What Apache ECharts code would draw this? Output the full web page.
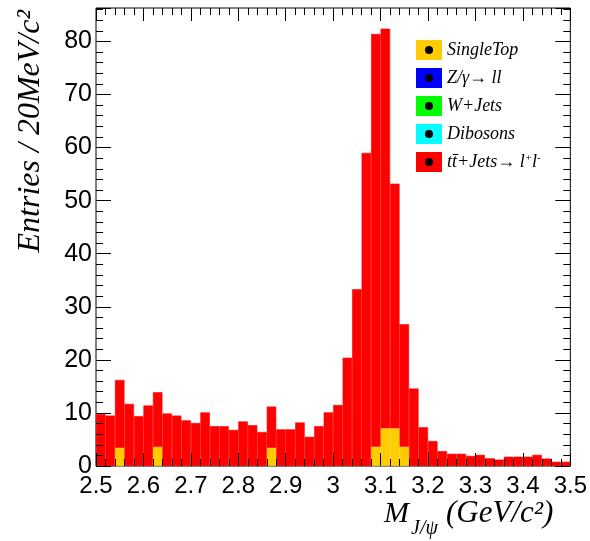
<!DOCTYPE html>
<html>
<head>
<meta charset="utf-8">
<script src="https://cdn.jsdelivr.net/npm/echarts@6/dist/echarts.min.js"></script>
<style>
  html, body { margin: 0; padding: 0; background: #fff; }
  #main { width: 590px; height: 541px; }
</style>
</head>
<body>
<div id="main"></div>
<script>
// J/psi mass histogram, 20 MeV bins from 2.5 to 3.5
var binEdges = [];
for (var i = 0; i < 50; i++) binEdges.push((2.5 + i * 0.02).toFixed(2));

var seriesNames = ['SingleTop', 'Z/γ→ ll', 'W+Jets', 'Dibosons', 'tt̄+Jets→ l+l-'];
var seriesColors = ['#ffcc00', '#0000ff', '#00ff00', '#00ffff', '#ff0000'];

var singleTop = [0, 0, 3.4, 0, 0, 0, 3.6, 0, 0, 0,
                 0, 0, 0, 0, 0, 0, 0, 0, 3.4, 0,
                 0, 0, 0, 0, 0, 0, 0, 0, 0, 3.6,
                 7.1, 7.1, 3.6, 0, 0, 0, 0, 0, 0, 0,
                 0, 0, 0, 0, 0, 0, 0, 0, 0, 0];
var zgamma = [];
var wjets = [];
var dibosons = [];
for (var k = 0; k < 50; k++) { zgamma.push(0); wjets.push(0); dibosons.push(0); }

// total stacked height of each bin
var total = [9.8, 9.5, 16.2, 11.7, 9.4, 11.4, 13.9, 9.9, 9.5, 8.6,
             8.1, 10.1, 7.5, 7.5, 6.8, 8.4, 7.7, 6.4, 11.2, 6.9,
             6.9, 8.2, 5.5, 7.5, 10.1, 11.5, 20.4, 33.3, 59.0, 81.4,
             82.4, 53.2, 26.7, 14.6, 7.3, 4.7, 2.8, 2.3, 2.3, 1.9,
             2.1, 1.45, 1.2, 1.75, 1.75, 1.75, 2.1, 1.4, 0.8, 0.8];
var ttbar = total.map(function (v, i) { return +(v - singleTop[i]).toFixed(2); });

var seriesData = [singleTop, zgamma, wjets, dibosons, ttbar];

function legendIcon(color) {
  var svg = '<svg xmlns="http://www.w3.org/2000/svg" width="26" height="20">' +
    '<rect width="26" height="20" fill="' + color + '"/>' +
    '<circle cx="13" cy="10" r="4" fill="#000"/></svg>';
  return 'image://data:image/svg+xml;charset=utf-8,' + encodeURIComponent(svg);
}

var myChart = echarts.init(document.getElementById('main'));

var tickStyle = { color: '#000' };

var option = {
  backgroundColor: '#fff',
  animation: false,
  grid: {
    left: 96, right: 14, top: 8, bottom: 75,
    show: true, borderColor: '#000', borderWidth: 1, backgroundColor: 'transparent'
  },
  legend: {
    left: 411, top: 35,
    orient: 'vertical',
    itemWidth: 26, itemHeight: 20, itemGap: 8,
    data: seriesNames.map(function (n, i) { return { name: n, icon: legendIcon(seriesColors[i]) }; }),
    formatter: function (name) {
      if (name === seriesNames[4]) return 'tt̄+Jets→ l{sup|+}l{sup|-}';
      return name;
    },
    textStyle: {
      fontFamily: 'Liberation Serif', fontStyle: 'italic', fontSize: 18, color: '#000',
      rich: {
        sup: { fontFamily: 'Liberation Serif', fontStyle: 'italic', fontSize: 11, verticalAlign: 'top', padding: [0, 0, 8, 0] }
      }
    },
    selectedMode: false
  },
  xAxis: [
    {
      type: 'category', data: binEdges, show: false, boundaryGap: true
    },
    {
      type: 'value', position: 'bottom', min: 2.5, max: 3.5, interval: 0.1, z: 5,
      axisLine: { show: false },
      axisTick: { inside: true, length: 13, lineStyle: tickStyle },
      minorTick: { show: true, splitNumber: 5, length: 7, lineStyle: tickStyle },
      splitLine: { show: false },
      axisLabel: {
        fontFamily: 'Liberation Sans', fontSize: 24, color: '#000', margin: 8,
        formatter: function (v) { return +v.toFixed(1) + ''; }
      }
    },
    {
      type: 'value', position: 'top', min: 2.5, max: 3.5, interval: 0.1, z: 5,
      axisLine: { show: false },
      axisTick: { inside: true, length: 13, lineStyle: tickStyle },
      minorTick: { show: true, splitNumber: 5, length: 7, lineStyle: tickStyle },
      splitLine: { show: false },
      axisLabel: { show: false }
    }
  ],
  yAxis: [
    {
      type: 'value', position: 'left', min: 0, max: 86.3, interval: 10, z: 5,
      axisLine: { show: false },
      axisTick: { inside: true, length: 15, lineStyle: tickStyle },
      minorTick: { show: true, splitNumber: 5, length: 7, lineStyle: tickStyle },
      splitLine: { show: false },
      axisLabel: {
        fontFamily: 'Liberation Sans', fontSize: 25, color: '#000', margin: 4,
        showMaxLabel: false
      }
    },
    {
      type: 'value', position: 'right', min: 0, max: 86.3, interval: 10, z: 5,
      axisLine: { show: false },
      axisTick: { inside: true, length: 15, lineStyle: tickStyle },
      minorTick: { show: true, splitNumber: 5, length: 7, lineStyle: tickStyle },
      splitLine: { show: false },
      axisLabel: { show: false }
    }
  ],
  series: seriesNames.map(function (n, i) {
    return {
      name: n,
      type: 'bar',
      stack: 'mc',
      xAxisIndex: 0,
      yAxisIndex: 0,
      barCategoryGap: '0%',
      itemStyle: { color: seriesColors[i] },
      data: seriesData[i].map(function (v) {
        return { value: v, itemStyle: { borderColor: seriesColors[i], borderWidth: v > 0 ? 0.6 : 0 } };
      })
    };
  }),
  graphic: [
    {
      type: 'text', x: 31, y: 10, rotation: Math.PI / 2,
      style: {
        text: 'Entries / 20MeV/c²',
        font: 'italic 32px "Liberation Serif"',
        fill: '#000', align: 'right', verticalAlign: 'middle'
      }
    },
    {
      type: 'text', x: 384, y: 514,
      style: { text: 'M', font: 'italic 30px "Liberation Serif"', fill: '#000', align: 'left', verticalAlign: 'middle' }
    },
    {
      type: 'text', x: 411, y: 529,
      style: { text: 'J/ψ', font: 'italic 20px "Liberation Serif"', fill: '#000', align: 'left', verticalAlign: 'middle' }
    },
    {
      type: 'text', x: 446, y: 514,
      style: { text: '(GeV/c²)', font: 'italic 31px "Liberation Serif"', fill: '#000', align: 'left', verticalAlign: 'middle' }
    }
  ]
};

myChart.setOption(option);
</script>
</body>
</html>
